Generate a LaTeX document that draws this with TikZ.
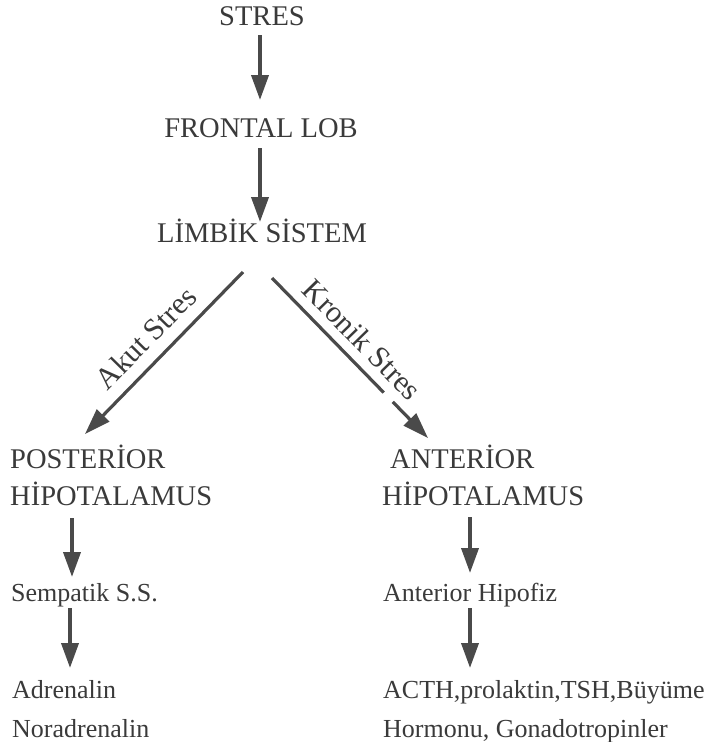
\documentclass[tikz,border=0pt]{standalone}
\usepackage{fontspec}
\setmainfont{Liberation Serif}
\usetikzlibrary{arrows.meta,calc}
\definecolor{ink}{HTML}{3A3A3A}
\definecolor{arrowink}{HTML}{4A4A4A}
\begin{document}
\begin{tikzpicture}[x=1pt,y=-1pt,
  big/.style={font=\fontsize{28.5}{30}\selectfont, text=ink, inner sep=0pt},
  small/.style={font=\fontsize{26}{28}\selectfont, text=ink, inner sep=0pt},
  lab/.style={font=\fontsize{30.5}{32}\selectfont, text=ink, inner sep=0pt, anchor=base},
  varrow/.style={draw=arrowink, line width=3.8pt, -{Triangle[length=25pt,width=17pt]}, arrowink},
  darrow/.style={draw=arrowink, line width=3.2pt, -{Triangle[length=26pt,width=17pt]}, arrowink}]
\useasboundingbox (0,0) rectangle (720,742);
% top chain
\node[big, anchor=base] (stres) at (262,25) {STRES};
\node[big, anchor=base] (frontal) at (261,137) {FRONTAL LOB};
\node[big, anchor=base] (limbik) at (262,242) {LİMBİK SİSTEM};
% left column
\node[big, anchor=base west] (postL) at (10,468) {POSTERİOR};
\node[big, anchor=base west] (hipoL) at (10,505) {HİPOTALAMUS};
\node[small, anchor=base west] (semp) at (11,601) {Sempatik S.S.};
\node[small, anchor=base west] (adr) at (12,698) {Adrenalin};
\node[small, anchor=base west] (noradr) at (12,737) {Noradrenalin};
% right column
\node[big, anchor=base west] (antR) at (390,468) {ANTERİOR};
\node[big, anchor=base west] (hipoR) at (382,505) {HİPOTALAMUS};
\node[small, anchor=base west] (antHip) at (383,601) {Anterior Hipofiz};
\node[small, anchor=base west] (acth) at (383,698) {ACTH,prolaktin,TSH,Büyüme};
\node[small, anchor=base west] (horm) at (383,737) {Hormonu, Gonadotropinler};
% arrows
\draw[varrow] ($(stres.base)+(-2,10)$) -- ($(frontal.base)+(-1,-37)$);
\draw[varrow] ($(frontal.base)+(-1,11)$) -- ($(limbik.base)+(-2,-20)$);
\draw[darrow] ($(limbik.base)+(-19,30)$) -- ($(postL.base west)+(75,-34)$);
\draw[darrow, dash pattern=on 160pt off 13pt on 300pt] ($(limbik.base)+(10,36)$) -- ($(antR.base west)+(38,-30)$);
\draw[varrow] ($(hipoL.base west)+(62,13)$) -- ($(semp.base west)+(61,-24)$);
\draw[varrow] ($(semp.base west)+(59,7)$) -- ($(adr.base west)+(58,-30)$);
\draw[varrow] ($(hipoR.base west)+(88,12)$) -- ($(antHip.base west)+(87,-28)$);
\draw[varrow] ($(antHip.base west)+(87,7)$) -- ($(acth.base west)+(87,-30)$);
% labels
\node[lab, rotate=45.5] (akut) at (153,345) {Akut Stres};
\node[lab, rotate=-45.7] (kronik) at (355,347) {Kronik Stres};
\end{tikzpicture}
\end{document}
